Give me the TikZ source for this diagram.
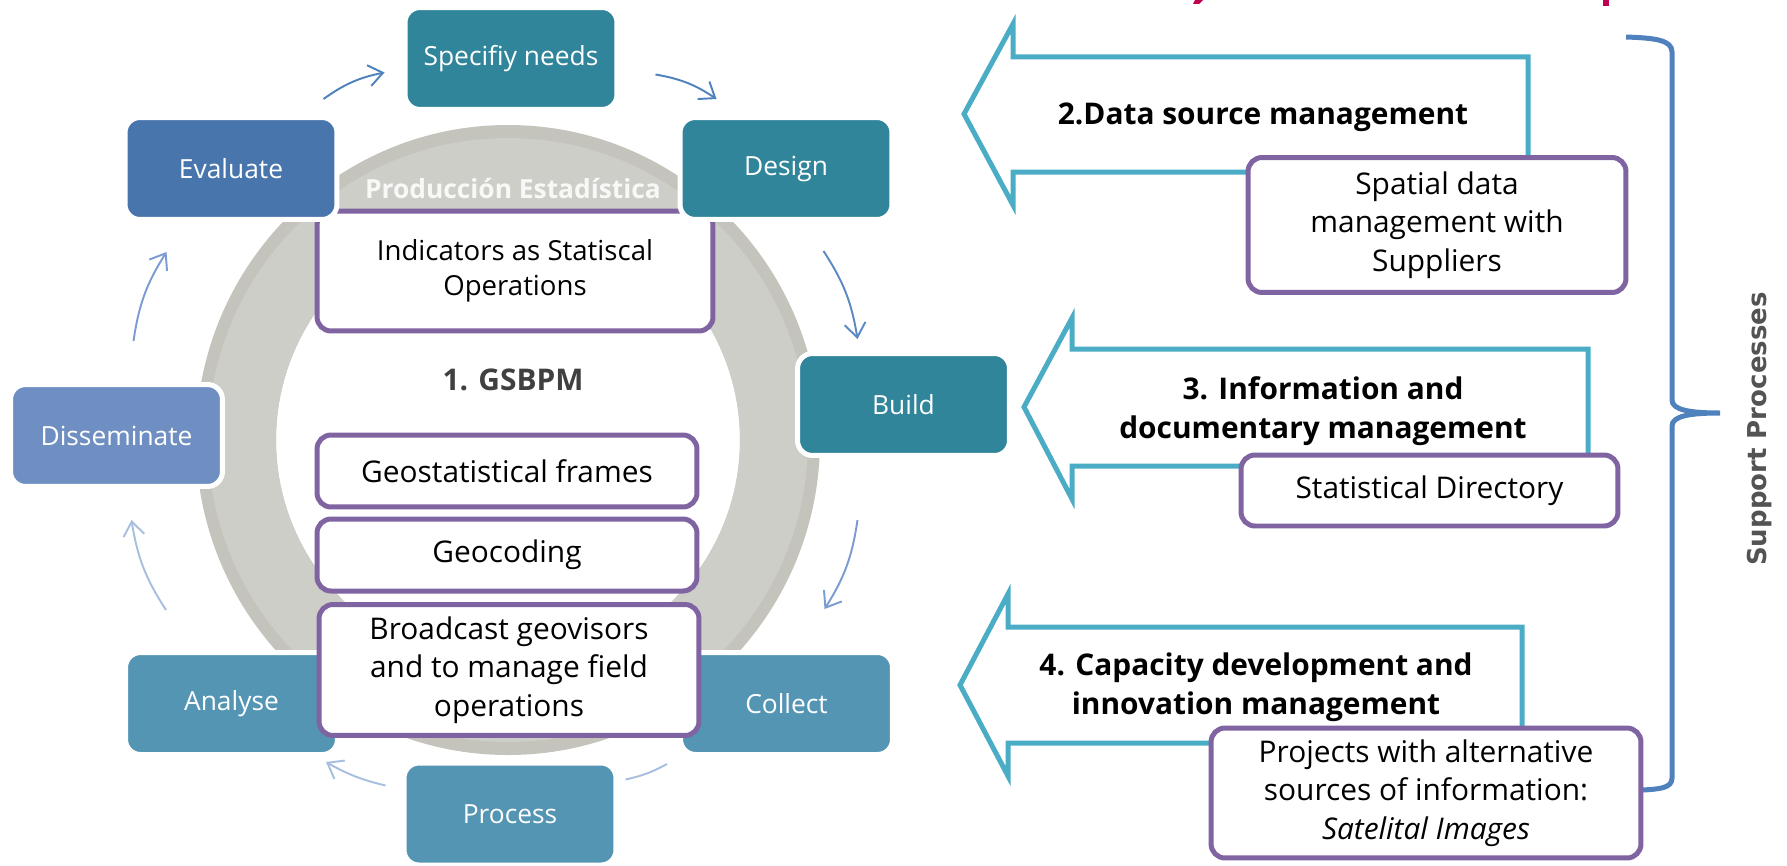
\documentclass[tikz,border=0pt]{standalone}
\usepackage{fontspec}
\setmainfont{Open Sans}
\newfontfamily\supportfont{DejaVu Sans}
\usepackage{tikz}
\usetikzlibrary{arrows.meta}

\definecolor{StepTeal}{RGB}{49,133,155}
\definecolor{StepLight}{RGB}{84,149,180}
\definecolor{EvalBlue}{RGB}{73,117,173}
\definecolor{DissBlue}{RGB}{111,143,194}
\definecolor{OpPurple}{RGB}{128,100,162}
\definecolor{ArrowCyan}{RGB}{75,172,198}
\definecolor{BraceBlue}{RGB}{79,129,189}
\definecolor{RingDark}{RGB}{196,196,189}
\definecolor{RingLight}{RGB}{206,206,201}
\definecolor{TitleRed}{RGB}{192,0,80}
\definecolor{CycDark}{RGB}{79,129,189}
\definecolor{CycMid}{RGB}{122,156,208}
\definecolor{CycLight}{RGB}{167,190,222}
\definecolor{LabelGray}{RGB}{64,64,64}

\newcommand{\boxfont}{\fontsize{17}{22}\selectfont}
\newcommand{\stepfont}{\fontsize{15}{20}\selectfont}

\tikzset{>={Straight Barb[length=8pt,width=12pt]},
  stepbox/.style={rounded corners=0.3cm, draw=white, line width=0.1cm,
    text=white, minimum width=4.24cm, minimum height=2.04cm, font=\stepfont},
  opbox/.style={rounded corners=0.28cm, draw=OpPurple, line width=0.1cm,
    fill=white, align=center, font=\boxfont},
  cyc/.style={->, line width=1.1pt},
  supportarrow/.style={draw=ArrowCyan, line width=0.1cm, fill=white},
  arrowlabel/.style={align=center, font=\fontsize{17}{22}\selectfont\bfseries}
}

\begin{document}
\begin{tikzpicture}[x=0.02cm, y=-0.02cm]
  \useasboundingbox (0,0) rectangle (1787,865);

  % grey ring behind the cycle
  \fill[RingDark, even odd rule] (508,440) ellipse [x radius=312, y radius=315]
    (508,440) ellipse [x radius=232, y radius=228];
  \fill[RingLight, even odd rule] (508,440) ellipse [x radius=300, y radius=302]
    (508,440) ellipse [x radius=232, y radius=228];
  \node[font=\stepfont\bfseries, text=white!85!RingLight] (prod) at (513,189) {Producción Estadística};

  \node[opbox, minimum width=7.92cm, minimum height=2.4cm, font=\fontsize{15.7}{20}\selectfont] (indic)
    at (515,271) {Indicators as Statiscal\\Operations};

  % cycle steps
  \node[stepbox, fill=StepTeal] (spec) at (511,58.5) {Specifiy needs};
  \node[stepbox, fill=StepTeal] (design) at (786,168.5) {Design};
  \node[stepbox, fill=StepTeal] (build) at (903.5,404.5) {Build};
  \node[stepbox, fill=StepLight] (collect) at (786.5,703.5) {Collect};
  \node[stepbox, fill=StepLight] (process) at (510,814) {Process};
  \node[stepbox, fill=StepLight] (analyse) at (231.5,703.5) {Analyse};
  \node[stepbox, fill=DissBlue] (dissem) at (116.5,435.5) {Disseminate};
  \node[stepbox, fill=EvalBlue] (eval) at (231,168.5) {Evaluate};

  \node[font=\fontsize{17}{20}\selectfont\bfseries, text=LabelGray] (gsbpm) at (513,380) {1. GSBPM};
  \node[opbox, minimum width=7.6cm, minimum height=1.44cm] (frames) at (507,471) {Geostatistical frames};
  \node[opbox, minimum width=7.6cm, minimum height=1.44cm] (geocod) at (507,555) {Geocoding};
  \node[opbox, minimum width=7.6cm, minimum height=2.62cm] (broad) at (509,670)
    {Broadcast geovisors\\and to manage field\\operations};

  % arrows of the cycle
  \draw[cyc, CycDark] ([shift={(-16,-16)}]eval.north east) to[bend left=12] ([shift={(-18,14)}]spec.west);
  \draw[cyc, CycDark] ([shift={(36,16)}]spec.east) to[bend left=12] ([shift={(39,-16)}]design.north west);
  \draw[cyc, CycDark!70!CycMid] ([shift={(-71,29)}]design.south east) to[bend left=12] ([shift={(-46,-12)}]build.north);
  \draw[cyc, CycMid] ([shift={(-46,62)}]build.south) to[bend left=12] ([shift={(38,-41)}]collect.north);
  \draw[cyc, -, CycLight] ([shift={(-11,7)}]collect.south west) to[bend left=8] ([shift={(7,19)}]process.north east);
  \draw[cyc, CycLight] ([shift={(-16,25)}]process.north west) to[bend left=8] ([shift={(-14,5)}]analyse.south east);
  \draw[cyc, CycLight] ([shift={(43,-40)}]analyse.north west) to[bend left=12] ([shift={(15,31)}]dissem.south);
  \draw[cyc, CycMid] ([shift={(17,-41)}]dissem.north) to[bend left=12] ([shift={(44,30)}]eval.south west);

  % support processes
  \draw[supportarrow] (964,114) -- (1013,24) -- (1013,57) -- (1528,57) -- (1528,172)
    -- (1013,172) -- (1013,205) -- cycle;
  \node[arrowlabel] (datasrc) at (1263,117) {2.Data source management};
  \node[opbox, minimum width=7.56cm, minimum height=2.7cm] (spatial) at (1437,225)
    {Spatial data\\management with\\Suppliers};

  \draw[supportarrow] (1024,407) -- (1072,318) -- (1072,349) -- (1588,349) -- (1588,466)
    -- (1072,466) -- (1072,499) -- cycle;
  \node[arrowlabel] (infodoc) at (1323,411) {3. Information and\\documentary management};
  \node[opbox, minimum width=7.54cm, minimum height=1.42cm] (direct) at (1429.5,490.5)
    {Statistical Directory};

  \draw[supportarrow] (960,685) -- (1008,594) -- (1008,627) -- (1522,627) -- (1522,743)
    -- (1008,743) -- (1008,776) -- cycle;
  \node[arrowlabel] (capacity) at (1256,687) {4. Capacity development and\\innovation management};
  \node[opbox, minimum width=8.6cm, minimum height=2.6cm] (projects) at (1426,793)
    {Projects with alternative\\sources of information:\\\textit{Satelital Images}};

  % brace
  \draw[BraceBlue, line width=0.1cm] (1626,37) .. controls (1655,38) and (1672,40) .. (1672,52)
    -- (1672,400) .. controls (1672,410) and (1690,413) .. (1720,413)
    .. controls (1690,413) and (1672,416) .. (1672,426) -- (1672,778)
    .. controls (1672,788) and (1660,789) .. (1643,790);
  \node[rotate=90, font=\supportfont\bfseries\fontsize{14.8}{17}\selectfont, text=LabelGray!90!white] (support)
    at (1760,429) {Support Processes};

  % cut-off title
  \fill[TitleRed] (1195,0) -- (1203,0) -- (1199,4) -- (1193,4) -- cycle;
  \fill[TitleRed] (1603,0) rectangle (1609,6);
\end{tikzpicture}
\end{document}
